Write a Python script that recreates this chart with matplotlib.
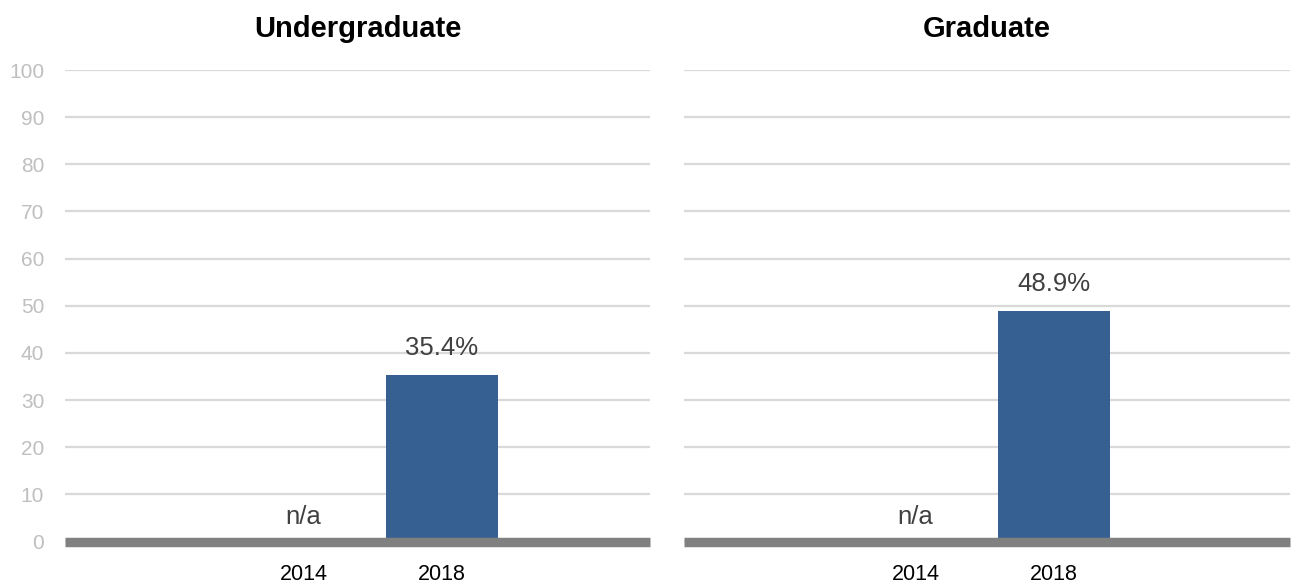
import matplotlib
matplotlib.use("Agg")
import matplotlib.pyplot as plt

plt.rcParams['font.family'] = ['Liberation Sans', 'DejaVu Sans']

# data
YEARS = ['2014', '2018']
PANELS = ['Undergraduate', 'Graduate']
UNDERGRAD = [None, 35.4]
GRADUATE = [None, 48.9]
Y_TICKS = list(range(0, 101, 10))

BAR_COLOR = '#366092'
GRID_COLOR = '#D9D9D9'
BASE_COLOR = '#808080'


def draw_panel(ax, title, values, xlim, show_yticks):
	pos = list(range(len(YEARS)))
	for i, v in enumerate(values):
		if v is None:
			ax.annotate('n/a', (i, 0), xytext=(0, 18), textcoords='offset points',
				ha='center', va='center', fontsize=18.5, color='#404040')
		else:
			ax.bar(i, v, width=0.81, color=BAR_COLOR, zorder=2)
			ax.annotate('{0:.1f}%'.format(v), (i, v), xytext=(0, 19.5), textcoords='offset points',
				ha='center', va='center', fontsize=18.5, color='#404040')

	# baseline band
	ax.axhline(0, color=BASE_COLOR, lw=6.8, zorder=3, clip_on=False, solid_capstyle='butt')

	ax.set_ylim(0, 100)
	ax.set_xlim(*xlim)
	ax.set_yticks(Y_TICKS)
	ax.yaxis.grid(True, color=GRID_COLOR, lw=1.6, zorder=0)
	ax.set_axisbelow(True)
	ax.set_xticks(pos)
	ax.set_xticklabels(YEARS, fontsize=15.5, color='black')
	ax.tick_params(axis='x', length=0, pad=16)
	ax.tick_params(axis='y', length=0, pad=15, labelsize=15, labelcolor='#BFBFBF')
	if not show_yticks:
		ax.tick_params(axis='y', labelleft=False)
	for s in ax.spines.values():
		s.set_visible(False)
	ax.set_title(title, fontsize=21, fontweight='bold', pad=24)


def main():
	fig = plt.figure(figsize=(12.94, 5.86), dpi=100)
	ax1 = fig.add_axes([0.0502, 0.0759, 0.4521, 0.8046])
	ax2 = fig.add_axes([0.5286, 0.0759, 0.4683, 0.8046])

	draw_panel(ax1, PANELS[0], UNDERGRAD, (-1.73, 2.51), True)
	draw_panel(ax2, PANELS[1], GRADUATE, (-1.67, 2.70), False)

	fig.savefig('out.png', dpi=100)


if __name__ == '__main__':
	main()
